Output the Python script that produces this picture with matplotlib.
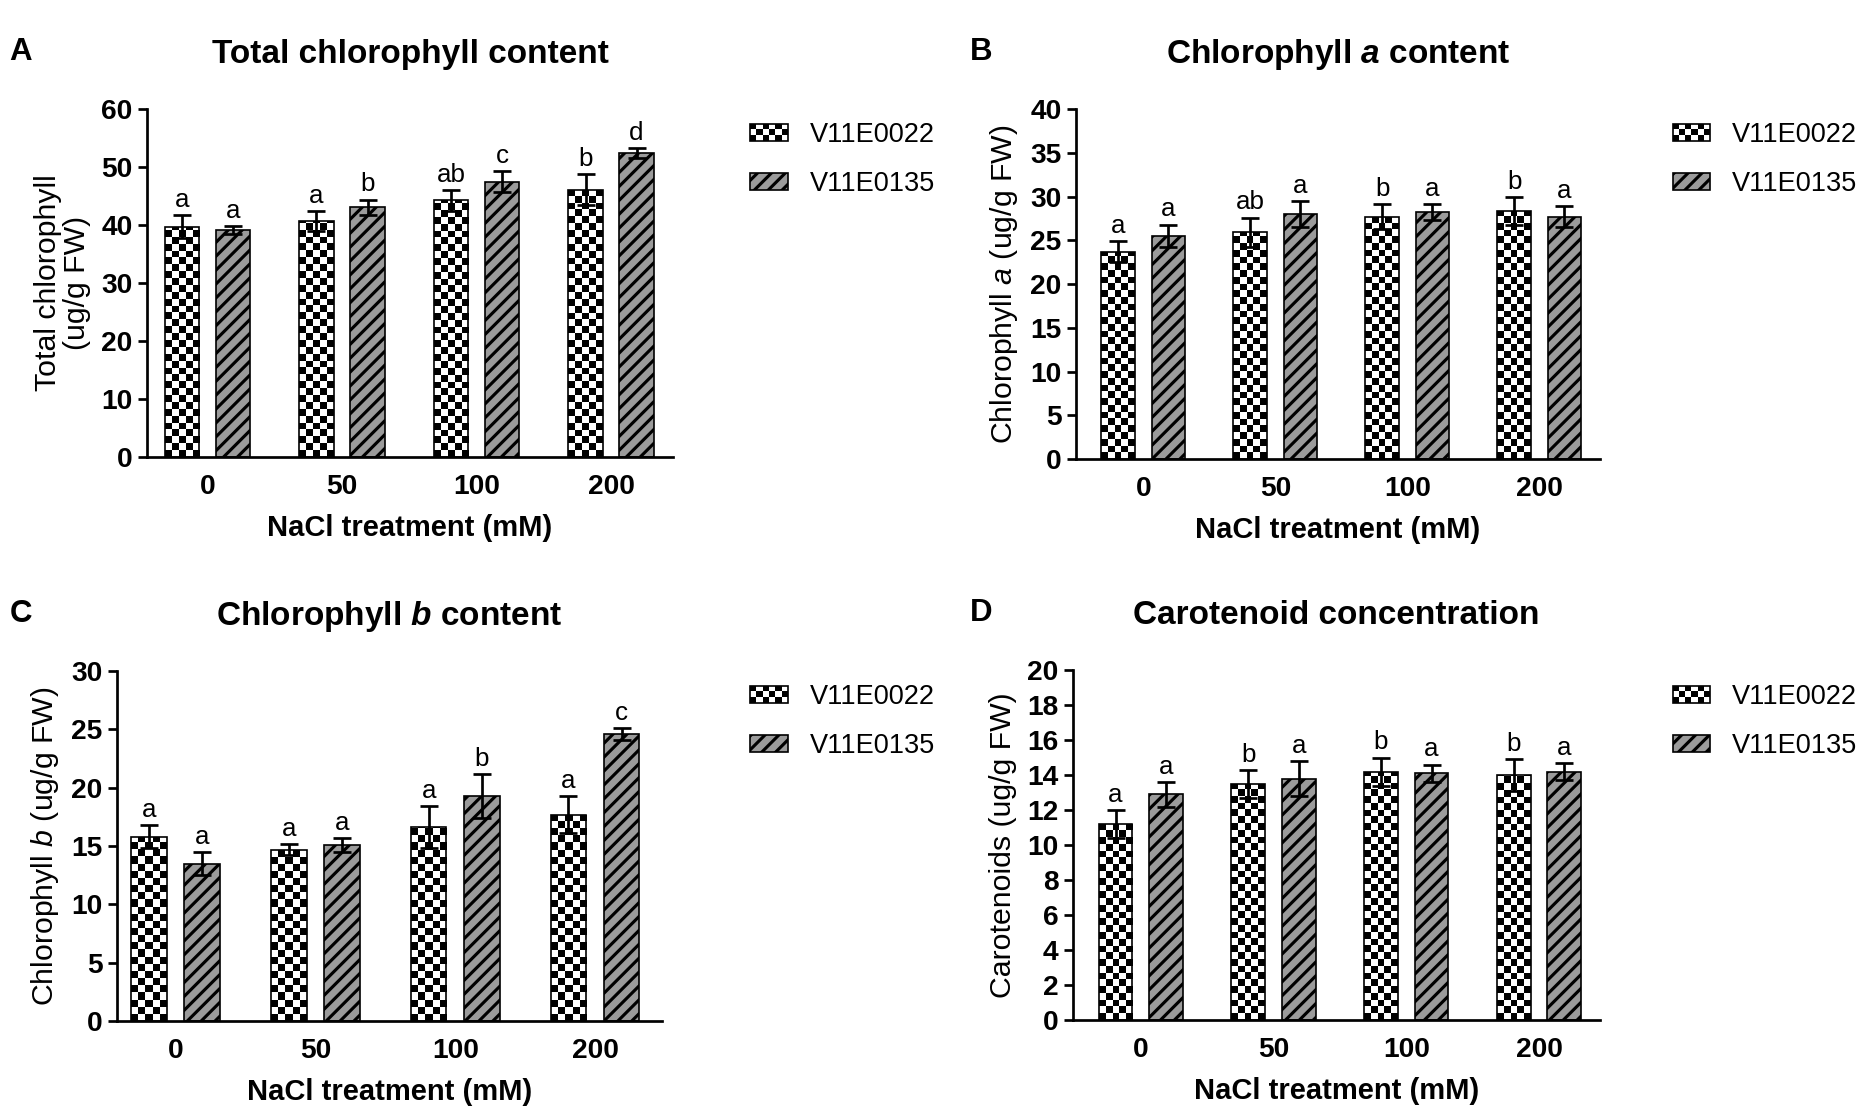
import numpy as np
import matplotlib
matplotlib.use("Agg")
import matplotlib.pyplot as plt
from matplotlib.patches import Rectangle
from matplotlib.legend_handler import HandlerBase

DPI = 125
S = 150 / DPI  # sizes below were tuned at 150 dpi

plt.rcParams['font.family'] = ['Liberation Sans', 'DejaVu Sans']
plt.rcParams['mathtext.fontset'] = 'custom'
plt.rcParams['mathtext.it'] = 'Liberation Sans:italic'
plt.rcParams['mathtext.bfit'] = 'Liberation Sans:italic:bold'
plt.rcParams['mathtext.rm'] = 'Liberation Sans'
plt.rcParams['hatch.linewidth'] = 1.8

# data
groups = ["0", "50", "100", "200"]
series = ["V11E0022", "V11E0135"]

total_v22 = [39.7, 40.7, 44.3, 46.1]
total_v22_err = [2.0, 1.7, 1.8, 2.7]
total_v35 = [39.1, 43.1, 47.5, 52.4]
total_v35_err = [0.7, 1.3, 1.8, 0.9]
total_v22_sig = ["a", "a", "ab", "b"]
total_v35_sig = ["a", "b", "c", "d"]

chla_v22 = [23.7, 25.9, 27.7, 28.3]
chla_v22_err = [1.2, 1.7, 1.4, 1.6]
chla_v35 = [25.5, 28.0, 28.2, 27.7]
chla_v35_err = [1.3, 1.5, 0.9, 1.2]
chla_v22_sig = ["a", "ab", "b", "b"]
chla_v35_sig = ["a", "a", "a", "a"]

chlb_v22 = [15.8, 14.7, 16.6, 17.7]
chlb_v22_err = [1.0, 0.5, 1.8, 1.6]
chlb_v35 = [13.5, 15.1, 19.3, 24.6]
chlb_v35_err = [1.0, 0.6, 1.9, 0.5]
chlb_v22_sig = ["a", "a", "a", "a"]
chlb_v35_sig = ["a", "a", "b", "c"]

car_v22 = [11.2, 13.5, 14.2, 14.0]
car_v22_err = [0.8, 0.8, 0.8, 0.9]
car_v35 = [12.9, 13.8, 14.1, 14.2]
car_v35_err = [0.7, 1.0, 0.5, 0.5]
car_v22_sig = ["a", "b", "b", "b"]
car_v35_sig = ["a", "a", "a", "a"]

GRAY = "#9b9b9b"
HATCH = '///'
TICKFONT = ['Liberation Sans Narrow', 'Liberation Sans']


class CheckerHandler(HandlerBase):
    def create_artists(self, legend, orig_handle, xdescent, ydescent,
                       width, height, fontsize, trans):
        ncol, nrow = 6, 3
        cw, ch = width / ncol, height / nrow
        arts = [Rectangle((-xdescent, -ydescent), width, height,
                          fc='white', ec='none', transform=trans)]
        for i in range(nrow):
            for j in range(ncol):
                if (i + j) % 2 == 0:
                    arts.append(Rectangle((j * cw - xdescent, i * ch - ydescent), cw, ch,
                                          fc='black', ec='none', transform=trans))
        arts.append(Rectangle((-xdescent, -ydescent), width, height,
                              fc='none', ec='black', lw=0.8 * S, transform=trans))
        return arts


def checker_fill(ax, bars, ncol=5):
    # paint a checkerboard inside each bar (square cells in pixels)
    inv = ax.transData.inverted()
    for bar in bars:
        x0, w, h = bar.get_x(), bar.get_width(), bar.get_height()
        p0 = ax.transData.transform((x0, 0))
        p1 = ax.transData.transform((x0 + w, h))
        sq = (p1[0] - p0[0]) / ncol
        nrow = int(np.ceil((p1[1] - p0[1]) / sq))
        top = inv.transform((p0[0], p0[1] + nrow * sq))[1]
        grid = np.add.outer(np.arange(nrow), np.arange(ncol)) % 2
        im = ax.imshow(grid, cmap='gray', vmin=0, vmax=1, extent=(x0, x0 + w, 0, top),
                       origin='lower', interpolation='nearest', aspect='auto', zorder=2.1)
        im.set_clip_path(bar)


panels = [
    dict(letter="A", rect=[0.0784, 0.589, 0.2805, 0.3129], xlim=(-0.45, 3.46),
         ylim=(0, 60), step=10, title="Total chlorophyll content",
         ylabel="Total chlorophyll\n(ug/g FW)",
         v22=total_v22, e22=total_v22_err, v35=total_v35, e35=total_v35_err,
         s22=total_v22_sig, s35=total_v35_sig, leg=(0.400, 0.8905)),
    dict(letter="B", rect=[0.5739, 0.5872, 0.2795, 0.3147], xlim=(-0.51, 3.46),
         ylim=(0, 40), step=5, title=r"Chlorophyll $\mathbfit{a}$ content",
         ylabel=r"Chlorophyll $\mathit{a}$ (ug/g FW)",
         v22=chla_v22, e22=chla_v22_err, v35=chla_v35, e35=chla_v35_err,
         s22=chla_v22_sig, s35=chla_v35_sig, leg=(0.892, 0.8905)),
    dict(letter="C", rect=[0.0624, 0.0818, 0.2907, 0.3147], xlim=(-0.42, 3.48),
         ylim=(0, 30), step=5, title=r"Chlorophyll $\mathbfit{b}$ content",
         ylabel=r"Chlorophyll $\mathit{b}$ (ug/g FW)",
         v22=chlb_v22, e22=chlb_v22_err, v35=chlb_v35, e35=chlb_v35_err,
         s22=chlb_v22_sig, s35=chlb_v35_sig, leg=(0.400, 0.3851)),
    dict(letter="D", rect=[0.5723, 0.0827, 0.2811, 0.3147], xlim=(-0.51, 3.46),
         ylim=(0, 20), step=2, title="Carotenoid concentration",
         ylabel="Carotenoids (ug/g FW)",
         v22=car_v22, e22=car_v22_err, v35=car_v35, e35=car_v35_err,
         s22=car_v22_sig, s35=car_v35_sig, leg=(0.892, 0.3851)),
]

fig = plt.figure(figsize=(1875 / DPI, 1112 / DPI), dpi=DPI)

x = np.arange(len(groups))
width = 0.255
off = 0.19

for p in panels:
    ax = fig.add_axes(p["rect"])
    ax.set_xlim(*p["xlim"])
    ax.set_ylim(*p["ylim"])

    b1 = ax.bar(x - off, p["v22"], width, facecolor='white', edgecolor='none', zorder=2)
    b2 = ax.bar(x + off, p["v35"], width, facecolor=GRAY, edgecolor='black',
                hatch=HATCH, lw=0.8 * S, zorder=2)
    checker_fill(ax, b1)
    ax.bar(x - off, p["v22"], width, fill=False, edgecolor='black', lw=0.8 * S, zorder=2.2)
    ax.set_xlim(*p["xlim"])
    ax.set_ylim(*p["ylim"])

    for xs, vals, errs in ((x - off, p["v22"], p["e22"]), (x + off, p["v35"], p["e35"])):
        ax.errorbar(xs, vals, yerr=errs, fmt='none', ecolor='black',
                    elinewidth=1.3 * S, capsize=4.5 * S, capthick=1.3 * S, zorder=4)

    for xs, vals, errs, sig in ((x - off, p["v22"], p["e22"], p["s22"]),
                                (x + off, p["v35"], p["e35"], p["s35"])):
        for xi, v, e, s in zip(xs, vals, errs, sig):
            ax.annotate(s, (xi, v + e), xytext=(0, 1.5 * S), textcoords='offset points',
                        ha='center', va='bottom', fontsize=12.5 * S)

    for side in ("top", "right"):
        ax.spines[side].set_visible(False)
    for side in ("left", "bottom"):
        ax.spines[side].set_linewidth(1.3 * S)

    ax.set_yticks(np.arange(p["ylim"][0], p["ylim"][1] + 0.1, p["step"]))
    ax.set_xticks(x)
    ax.set_xticklabels(groups)
    ax.tick_params(axis='y', length=4.5 * S, width=1.3 * S, pad=2.5 * S)
    ax.tick_params(axis='x', length=0, pad=8 * S)
    for lab in ax.get_xticklabels() + ax.get_yticklabels():
        lab.set_family(TICKFONT)
        lab.set_fontweight('bold')
        lab.set_fontsize(13.5 * S)

    ax.set_xlabel("NaCl treatment (mM)", fontsize=14 * S, fontweight='bold', labelpad=7 * S)
    ax.set_ylabel(p["ylabel"], fontsize=14.5 * S, labelpad=5 * S, linespacing=1.05)
    ax.set_title(p["title"], fontsize=16 * S, fontweight='bold', pad=22 * S)

    pos = ax.get_position()
    lx = 0.0050 if pos.x0 < 0.3 else 0.5170
    fig.text(lx, pos.y1 + 0.051, p["letter"], fontsize=15 * S, fontweight='bold', va='center')

    checker_proxy = Rectangle((0, 0), 1, 1, fc='white', ec='black')
    hatch_proxy = Rectangle((0, 0), 1, 1, fc=GRAY, ec='black', hatch=HATCH, lw=0.8 * S)
    fig.legend([checker_proxy, hatch_proxy], series, loc='upper left',
               bbox_to_anchor=p["leg"], frameon=False, fontsize=13 * S,
               handlelength=1.4, handleheight=0.6, handletextpad=0.8,
               labelspacing=0.85, borderpad=0, borderaxespad=0,
               handler_map={checker_proxy: CheckerHandler()})

fig.savefig("out.png", dpi=DPI, facecolor='white')
